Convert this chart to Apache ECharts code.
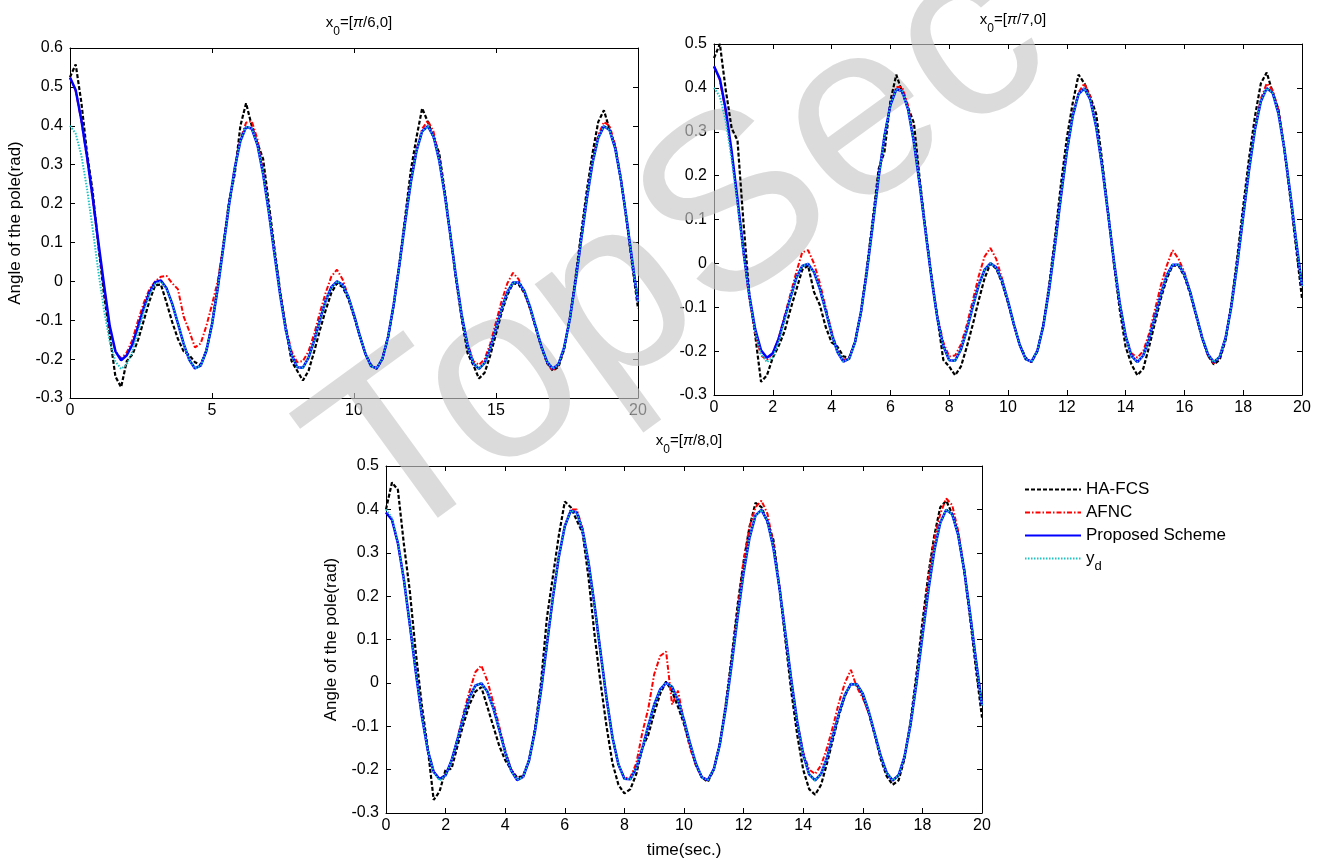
<!DOCTYPE html>
<html>
<head>
<meta charset="utf-8">
<title>Angle of the pole</title>
<script src="https://cdn.jsdelivr.net/npm/echarts@6/dist/echarts.min.js"></script>
<style>
  html, body { margin: 0; padding: 0; background: #fff; }
  #main { width: 1317px; height: 861px; }
</style>
</head>
<body>
<div id="main"></div>
<script>
// sample times (sec.)
var time = [
  0,0.2,0.4,0.6,0.8,1,1.2,1.4,1.6,1.8,
  2,2.2,2.4,2.6,2.8,3,3.2,3.4,3.6,3.8,
  4,4.2,4.4,4.6,4.8,5,5.2,5.4,5.6,5.8,
  6,6.2,6.4,6.6,6.8,7,7.2,7.4,7.6,7.8,
  8,8.2,8.4,8.6,8.8,9,9.2,9.4,9.6,9.8,
  10,10.2,10.4,10.6,10.8,11,11.2,11.4,11.6,11.8,
  12,12.2,12.4,12.6,12.8,13,13.2,13.4,13.6,13.8,
  14,14.2,14.4,14.6,14.8,15,15.2,15.4,15.6,15.8,
  16,16.2,16.4,16.6,16.8,17,17.2,17.4,17.6,17.8,
  18,18.2,18.4,18.6,18.8,19,19.2,19.4,19.6,19.8,
  20
];

// reference y_d (same in all three panels)
var ydRef = [
  0.400,0.380,0.324,0.238,0.134,0.025,-0.075,-0.155,-0.206,-0.225,
  -0.214,-0.179,-0.130,-0.078,-0.033,-0.006,-0.001,-0.020,-0.058,-0.108,
  -0.160,-0.202,-0.224,-0.217,-0.179,-0.111,-0.019,0.088,0.196,0.291,
  0.361,0.397,0.393,0.351,0.276,0.178,0.070,-0.035,-0.126,-0.188,
  -0.221,-0.222,-0.196,-0.152,-0.099,-0.050,-0.015,0.000,-0.009,-0.040,
  -0.086,-0.139,-0.186,-0.218,-0.224,-0.199,-0.143,-0.059,0.043,0.152,
  0.254,0.335,0.386,0.399,0.373,0.311,0.221,0.115,0.007,-0.090,
  -0.165,-0.211,-0.225,-0.210,-0.172,-0.121,-0.070,-0.027,-0.003,-0.003,
  -0.025,-0.066,-0.117,-0.168,-0.207,-0.225,-0.213,-0.170,-0.097,-0.001,
  0.107,0.213,0.305,0.369,0.399,0.389,0.341,0.261,0.160,0.051,
  -0.052
];

// x0 = [pi/6, 0]
var hafcs6 = [
  0.525,0.558,0.460,0.330,0.230,0.090,-0.035,-0.140,-0.245,-0.272,
  -0.205,-0.188,-0.150,-0.100,-0.050,-0.010,-0.008,-0.055,-0.105,-0.148,
  -0.180,-0.190,-0.208,-0.215,-0.178,-0.110,-0.015,0.095,0.205,0.275,
  0.400,0.458,0.400,0.355,0.315,0.200,0.085,-0.025,-0.120,-0.205,
  -0.230,-0.255,-0.230,-0.180,-0.125,-0.075,-0.030,-0.005,-0.015,-0.045,
  -0.090,-0.140,-0.186,-0.215,-0.225,-0.199,-0.143,-0.059,0.045,0.165,
  0.285,0.370,0.445,0.410,0.370,0.330,0.230,0.115,0.000,-0.100,
  -0.185,-0.215,-0.250,-0.235,-0.190,-0.135,-0.080,-0.035,-0.005,-0.008,
  -0.030,-0.070,-0.120,-0.170,-0.210,-0.230,-0.220,-0.175,-0.095,0.010,
  0.125,0.235,0.330,0.410,0.440,0.390,0.345,0.260,0.155,0.040,
  -0.070
];
var afnc6 = [
  0.524,0.490,0.413,0.318,0.212,0.095,-0.015,-0.120,-0.180,-0.198,
  -0.183,-0.150,-0.100,-0.055,-0.020,0.000,0.012,0.014,-0.005,-0.020,
  -0.090,-0.128,-0.170,-0.160,-0.115,-0.060,0.000,0.090,0.196,0.292,
  0.365,0.408,0.412,0.365,0.285,0.182,0.072,-0.030,-0.118,-0.180,
  -0.208,-0.205,-0.180,-0.135,-0.080,-0.030,0.012,0.030,0.005,-0.040,
  -0.086,-0.139,-0.186,-0.218,-0.224,-0.199,-0.143,-0.059,0.043,0.152,
  0.256,0.338,0.392,0.413,0.385,0.318,0.221,0.115,0.007,-0.090,
  -0.160,-0.205,-0.215,-0.200,-0.160,-0.105,-0.050,-0.005,0.022,0.005,
  -0.030,-0.070,-0.117,-0.168,-0.210,-0.230,-0.215,-0.170,-0.097,-0.001,
  0.107,0.213,0.308,0.375,0.410,0.400,0.350,0.265,0.160,0.051,
  -0.050
];
var prop6 = [
  0.524,0.492,0.415,0.320,0.215,0.100,-0.010,-0.115,-0.180,-0.203,
  -0.190,-0.162,-0.115,-0.068,-0.028,-0.002,0.002,-0.018,-0.058,-0.108,
  -0.160,-0.202,-0.224,-0.217,-0.179,-0.111,-0.019,0.088,0.196,0.291,
  0.361,0.397,0.393,0.351,0.276,0.178,0.070,-0.035,-0.126,-0.188,
  -0.221,-0.222,-0.196,-0.152,-0.099,-0.050,-0.015,0.000,-0.009,-0.040,
  -0.086,-0.139,-0.186,-0.218,-0.224,-0.199,-0.143,-0.059,0.043,0.152,
  0.254,0.335,0.386,0.399,0.373,0.311,0.221,0.115,0.007,-0.090,
  -0.165,-0.211,-0.225,-0.210,-0.172,-0.121,-0.070,-0.027,-0.003,-0.003,
  -0.025,-0.066,-0.117,-0.168,-0.207,-0.225,-0.213,-0.170,-0.097,-0.001,
  0.107,0.213,0.305,0.369,0.399,0.389,0.341,0.261,0.160,0.051,
  -0.052
];

// x0 = [pi/7, 0]
var hafcs7 = [
  0.468,0.500,0.395,0.308,0.280,0.095,-0.070,-0.163,-0.270,-0.255,
  -0.215,-0.188,-0.155,-0.105,-0.060,-0.015,-0.005,-0.065,-0.095,-0.145,
  -0.180,-0.190,-0.212,-0.215,-0.178,-0.110,-0.010,0.100,0.215,0.255,
  0.370,0.430,0.390,0.355,0.320,0.190,0.075,-0.030,-0.125,-0.220,
  -0.235,-0.255,-0.235,-0.190,-0.140,-0.085,-0.035,0.000,-0.012,-0.045,
  -0.090,-0.140,-0.186,-0.215,-0.225,-0.200,-0.140,-0.050,0.060,0.180,
  0.285,0.365,0.430,0.410,0.380,0.340,0.235,0.120,0.000,-0.105,
  -0.190,-0.230,-0.255,-0.240,-0.190,-0.135,-0.080,-0.035,-0.005,-0.005,
  -0.030,-0.070,-0.120,-0.170,-0.210,-0.230,-0.220,-0.175,-0.090,0.015,
  0.130,0.240,0.335,0.410,0.435,0.390,0.350,0.260,0.150,0.035,
  -0.080
];
var afnc7 = [
  0.449,0.418,0.345,0.250,0.140,0.025,-0.080,-0.160,-0.210,-0.220,
  -0.205,-0.170,-0.120,-0.070,-0.020,0.025,0.030,0.000,-0.045,-0.100,
  -0.155,-0.200,-0.220,-0.215,-0.179,-0.111,-0.019,0.088,0.196,0.291,
  0.361,0.402,0.402,0.360,0.280,0.178,0.070,-0.035,-0.120,-0.180,
  -0.212,-0.210,-0.185,-0.140,-0.085,-0.030,0.015,0.035,0.010,-0.035,
  -0.086,-0.139,-0.186,-0.218,-0.224,-0.199,-0.143,-0.059,0.043,0.152,
  0.254,0.338,0.390,0.410,0.380,0.311,0.221,0.115,0.007,-0.090,
  -0.165,-0.205,-0.215,-0.200,-0.160,-0.105,-0.050,-0.005,0.030,0.010,
  -0.020,-0.066,-0.117,-0.168,-0.210,-0.228,-0.213,-0.170,-0.097,-0.001,
  0.107,0.213,0.308,0.375,0.410,0.395,0.350,0.261,0.160,0.051,
  -0.052
];
var prop7 = [
  0.449,0.420,0.350,0.255,0.145,0.030,-0.072,-0.150,-0.198,-0.215,
  -0.205,-0.172,-0.125,-0.078,-0.033,-0.006,-0.001,-0.020,-0.058,-0.108,
  -0.160,-0.202,-0.224,-0.217,-0.179,-0.111,-0.019,0.088,0.196,0.291,
  0.361,0.397,0.393,0.351,0.276,0.178,0.070,-0.035,-0.126,-0.188,
  -0.221,-0.222,-0.196,-0.152,-0.099,-0.050,-0.015,0.000,-0.009,-0.040,
  -0.086,-0.139,-0.186,-0.218,-0.224,-0.199,-0.143,-0.059,0.043,0.152,
  0.254,0.335,0.386,0.399,0.373,0.311,0.221,0.115,0.007,-0.090,
  -0.165,-0.211,-0.225,-0.210,-0.172,-0.121,-0.070,-0.027,-0.003,-0.003,
  -0.025,-0.066,-0.117,-0.168,-0.207,-0.225,-0.213,-0.170,-0.097,-0.001,
  0.107,0.213,0.305,0.369,0.399,0.389,0.341,0.261,0.160,0.051,
  -0.052
];

// x0 = [pi/8, 0]
var hafcs8 = [
  0.400,0.462,0.445,0.320,0.211,0.070,-0.050,-0.150,-0.270,-0.250,
  -0.200,-0.198,-0.145,-0.095,-0.050,-0.020,-0.010,-0.055,-0.100,-0.145,
  -0.178,-0.200,-0.218,-0.215,-0.178,-0.105,0.000,0.150,0.245,0.340,
  0.418,0.405,0.375,0.345,0.240,0.110,0.000,-0.100,-0.185,-0.235,
  -0.255,-0.245,-0.210,-0.150,-0.120,-0.070,-0.025,0.003,-0.020,-0.055,
  -0.095,-0.145,-0.190,-0.218,-0.228,-0.200,-0.140,-0.050,0.060,0.180,
  0.280,0.360,0.415,0.405,0.370,0.330,0.220,0.100,-0.020,-0.120,
  -0.200,-0.245,-0.258,-0.235,-0.185,-0.130,-0.075,-0.030,-0.002,-0.005,
  -0.030,-0.070,-0.120,-0.175,-0.215,-0.235,-0.225,-0.175,-0.090,0.020,
  0.140,0.250,0.340,0.405,0.420,0.390,0.345,0.260,0.150,0.030,
  -0.080
];
var afnc8 = [
  0.393,0.376,0.322,0.238,0.134,0.025,-0.075,-0.155,-0.205,-0.222,
  -0.213,-0.179,-0.128,-0.070,-0.020,0.025,0.040,0.005,-0.045,-0.100,
  -0.155,-0.200,-0.222,-0.217,-0.179,-0.111,-0.019,0.088,0.196,0.291,
  0.361,0.400,0.400,0.355,0.276,0.178,0.070,-0.035,-0.126,-0.188,
  -0.220,-0.218,-0.185,-0.115,-0.060,0.020,0.062,0.072,-0.050,-0.018,
  -0.090,-0.150,-0.190,-0.218,-0.224,-0.199,-0.143,-0.055,0.050,0.165,
  0.280,0.360,0.405,0.420,0.390,0.320,0.225,0.115,0.007,-0.090,
  -0.160,-0.200,-0.210,-0.190,-0.150,-0.100,-0.045,0.000,0.030,-0.010,
  -0.035,-0.070,-0.117,-0.168,-0.207,-0.225,-0.213,-0.170,-0.097,0.000,
  0.115,0.240,0.330,0.390,0.425,0.410,0.350,0.265,0.160,0.051,
  -0.050
];
var prop8 = [
  0.393,0.376,0.322,0.238,0.134,0.025,-0.075,-0.155,-0.205,-0.222,
  -0.213,-0.179,-0.130,-0.078,-0.033,-0.006,-0.001,-0.020,-0.058,-0.108,
  -0.160,-0.202,-0.224,-0.217,-0.179,-0.111,-0.019,0.088,0.196,0.291,
  0.361,0.397,0.393,0.351,0.276,0.178,0.070,-0.035,-0.126,-0.188,
  -0.221,-0.222,-0.196,-0.152,-0.099,-0.050,-0.015,0.000,-0.009,-0.040,
  -0.086,-0.139,-0.186,-0.218,-0.224,-0.199,-0.143,-0.059,0.043,0.152,
  0.254,0.335,0.386,0.399,0.373,0.311,0.221,0.115,0.007,-0.090,
  -0.165,-0.211,-0.225,-0.210,-0.172,-0.121,-0.070,-0.027,-0.003,-0.003,
  -0.025,-0.066,-0.117,-0.168,-0.207,-0.225,-0.213,-0.170,-0.097,-0.001,
  0.107,0.213,0.305,0.369,0.399,0.389,0.341,0.261,0.160,0.051,
  -0.052
];

var names = ['HA-FCS', 'AFNC', 'Proposed Scheme', 'y_d'];
var panelTitles = ['/6,0]', '/7,0]', '/8,0]'];
var xTicks = [5, 2, 2];       // x tick step per panel
var yMax = [0.6, 0.5, 0.5];   // y range top per panel
var panels = [
  [hafcs6, afnc6, prop6, ydRef],
  [hafcs7, afnc7, prop7, ydRef],
  [hafcs8, afnc8, prop8, ydRef]
];

var FONT = '"Liberation Sans", Arial, sans-serif';

var chart = echarts.init(document.getElementById('main'));

function pairs(vals) {
  return time.map(function (t, i) { return [t, vals[i]]; });
}

var grids = [
  {left: 70, top: 48, width: 568, height: 350},
  {left: 714, top: 44, width: 588, height: 351},
  {left: 386, top: 466, width: 596, height: 347}
];

var lineStyles = [
  {color: '#000000', width: 2.2, type: [4, 2]},
  {color: '#ff0000', width: 2, type: [5, 2, 1.5, 2]},
  {color: '#0000ff', width: 2.5, type: 'solid'},
  {color: '#1cc4c4', width: 2, type: [1.5, 1.5]}
];

var xAxes = [], yAxes = [], series = [], titles = [];
var yLabelName = ['Angle of the pole(rad)', '', 'Angle of the pole(rad)'];
var titleTops = [3, 0, 421];

grids.forEach(function (g, i) {
  var axisLine = {show: true, onZero: false, lineStyle: {color: '#000', width: 1}};
  var tick = {show: true, inside: true, length: 5, lineStyle: {color: '#000'}};
  xAxes.push({
    type: 'value', gridIndex: i, position: 'bottom', min: 0, max: 20, interval: xTicks[i],
    axisLine: axisLine, axisTick: tick, splitLine: {show: false},
    axisLabel: {color: '#000', fontSize: 16, fontFamily: FONT, margin: 5},
    name: i === 2 ? 'time(sec.)' : '', nameLocation: 'middle', nameGap: 29,
    nameTextStyle: {color: '#000', fontSize: 17, fontFamily: FONT}
  });
  xAxes.push({
    type: 'value', gridIndex: i, position: 'top', min: 0, max: 20, interval: xTicks[i],
    axisLine: axisLine, axisTick: tick, splitLine: {show: false}, axisLabel: {show: false}
  });
  yAxes.push({
    type: 'value', gridIndex: i, position: 'left', min: -0.3, max: yMax[i], interval: 0.1,
    axisLine: axisLine, axisTick: tick, splitLine: {show: false},
    axisLabel: {color: '#000', fontSize: 16, fontFamily: FONT, margin: 7,
      formatter: function (v) { return String(parseFloat(v.toFixed(1))); }},
    name: yLabelName[i], nameLocation: 'middle', nameGap: 46, nameRotate: 90,
    nameTextStyle: {color: '#000', fontSize: 17, fontFamily: FONT}
  });
  yAxes.push({
    type: 'value', gridIndex: i, position: 'right', min: -0.3, max: yMax[i], interval: 0.1,
    axisLine: axisLine, axisTick: tick, splitLine: {show: false}, axisLabel: {show: false}
  });

  panels[i].forEach(function (vals, k) {
    series.push({
      name: names[k], type: 'line', xAxisIndex: 2 * i, yAxisIndex: 2 * i,
      data: pairs(vals), showSymbol: false, symbol: 'none',
      lineStyle: lineStyles[k], itemStyle: {color: lineStyles[k].color},
      z: 3 + k
    });
  });

  titles.push({
    text: '{x|x}{s|0}{x|=[}{p|π}{x|' + panelTitles[i] + '}',
    left: g.left + g.width / 2, top: titleTops[i], textAlign: 'center',
    textStyle: {
      fontWeight: 'normal',
      rich: {
        x: {fontSize: 15, fontFamily: FONT, fontWeight: 'normal', color: '#000', lineHeight: 24},
        p: {fontSize: 15, fontFamily: FONT, fontWeight: 'normal', fontStyle: 'italic', color: '#000', lineHeight: 24},
        s: {fontSize: 12, fontFamily: FONT, fontWeight: 'normal', color: '#000', lineHeight: 30, verticalAlign: 'bottom'}
      }
    }
  });
});

chart.setOption({
  animation: false,
  backgroundColor: '#fff',
  title: titles,
  grid: grids,
  xAxis: xAxes,
  yAxis: yAxes,
  legend: {
    data: names, orient: 'vertical', left: 1019, top: 476,
    itemWidth: 56, itemHeight: 14, itemGap: 6,
    itemStyle: {opacity: 0},
    textStyle: {color: '#000', fontSize: 17, fontFamily: FONT,
      rich: {
        y: {fontSize: 17, fontFamily: FONT, color: '#000', lineHeight: 20},
        d: {fontSize: 13, fontFamily: FONT, color: '#000', lineHeight: 28, verticalAlign: 'bottom'}
      }},
    formatter: function (n) { return n === 'y_d' ? '{y|y}{d|d}' : n; }
  },
  graphic: [{
    type: 'text', x: 345, y: 500, rotation: 36 * Math.PI / 180, z: 1, silent: true,
    style: {text: 'TopSec', fontSize: 250, fontFamily: FONT,
      fill: 'rgba(200,200,200,0.65)', align: 'left', verticalAlign: 'middle'}
  }],
  series: series
});
</script>
</body>
</html>
